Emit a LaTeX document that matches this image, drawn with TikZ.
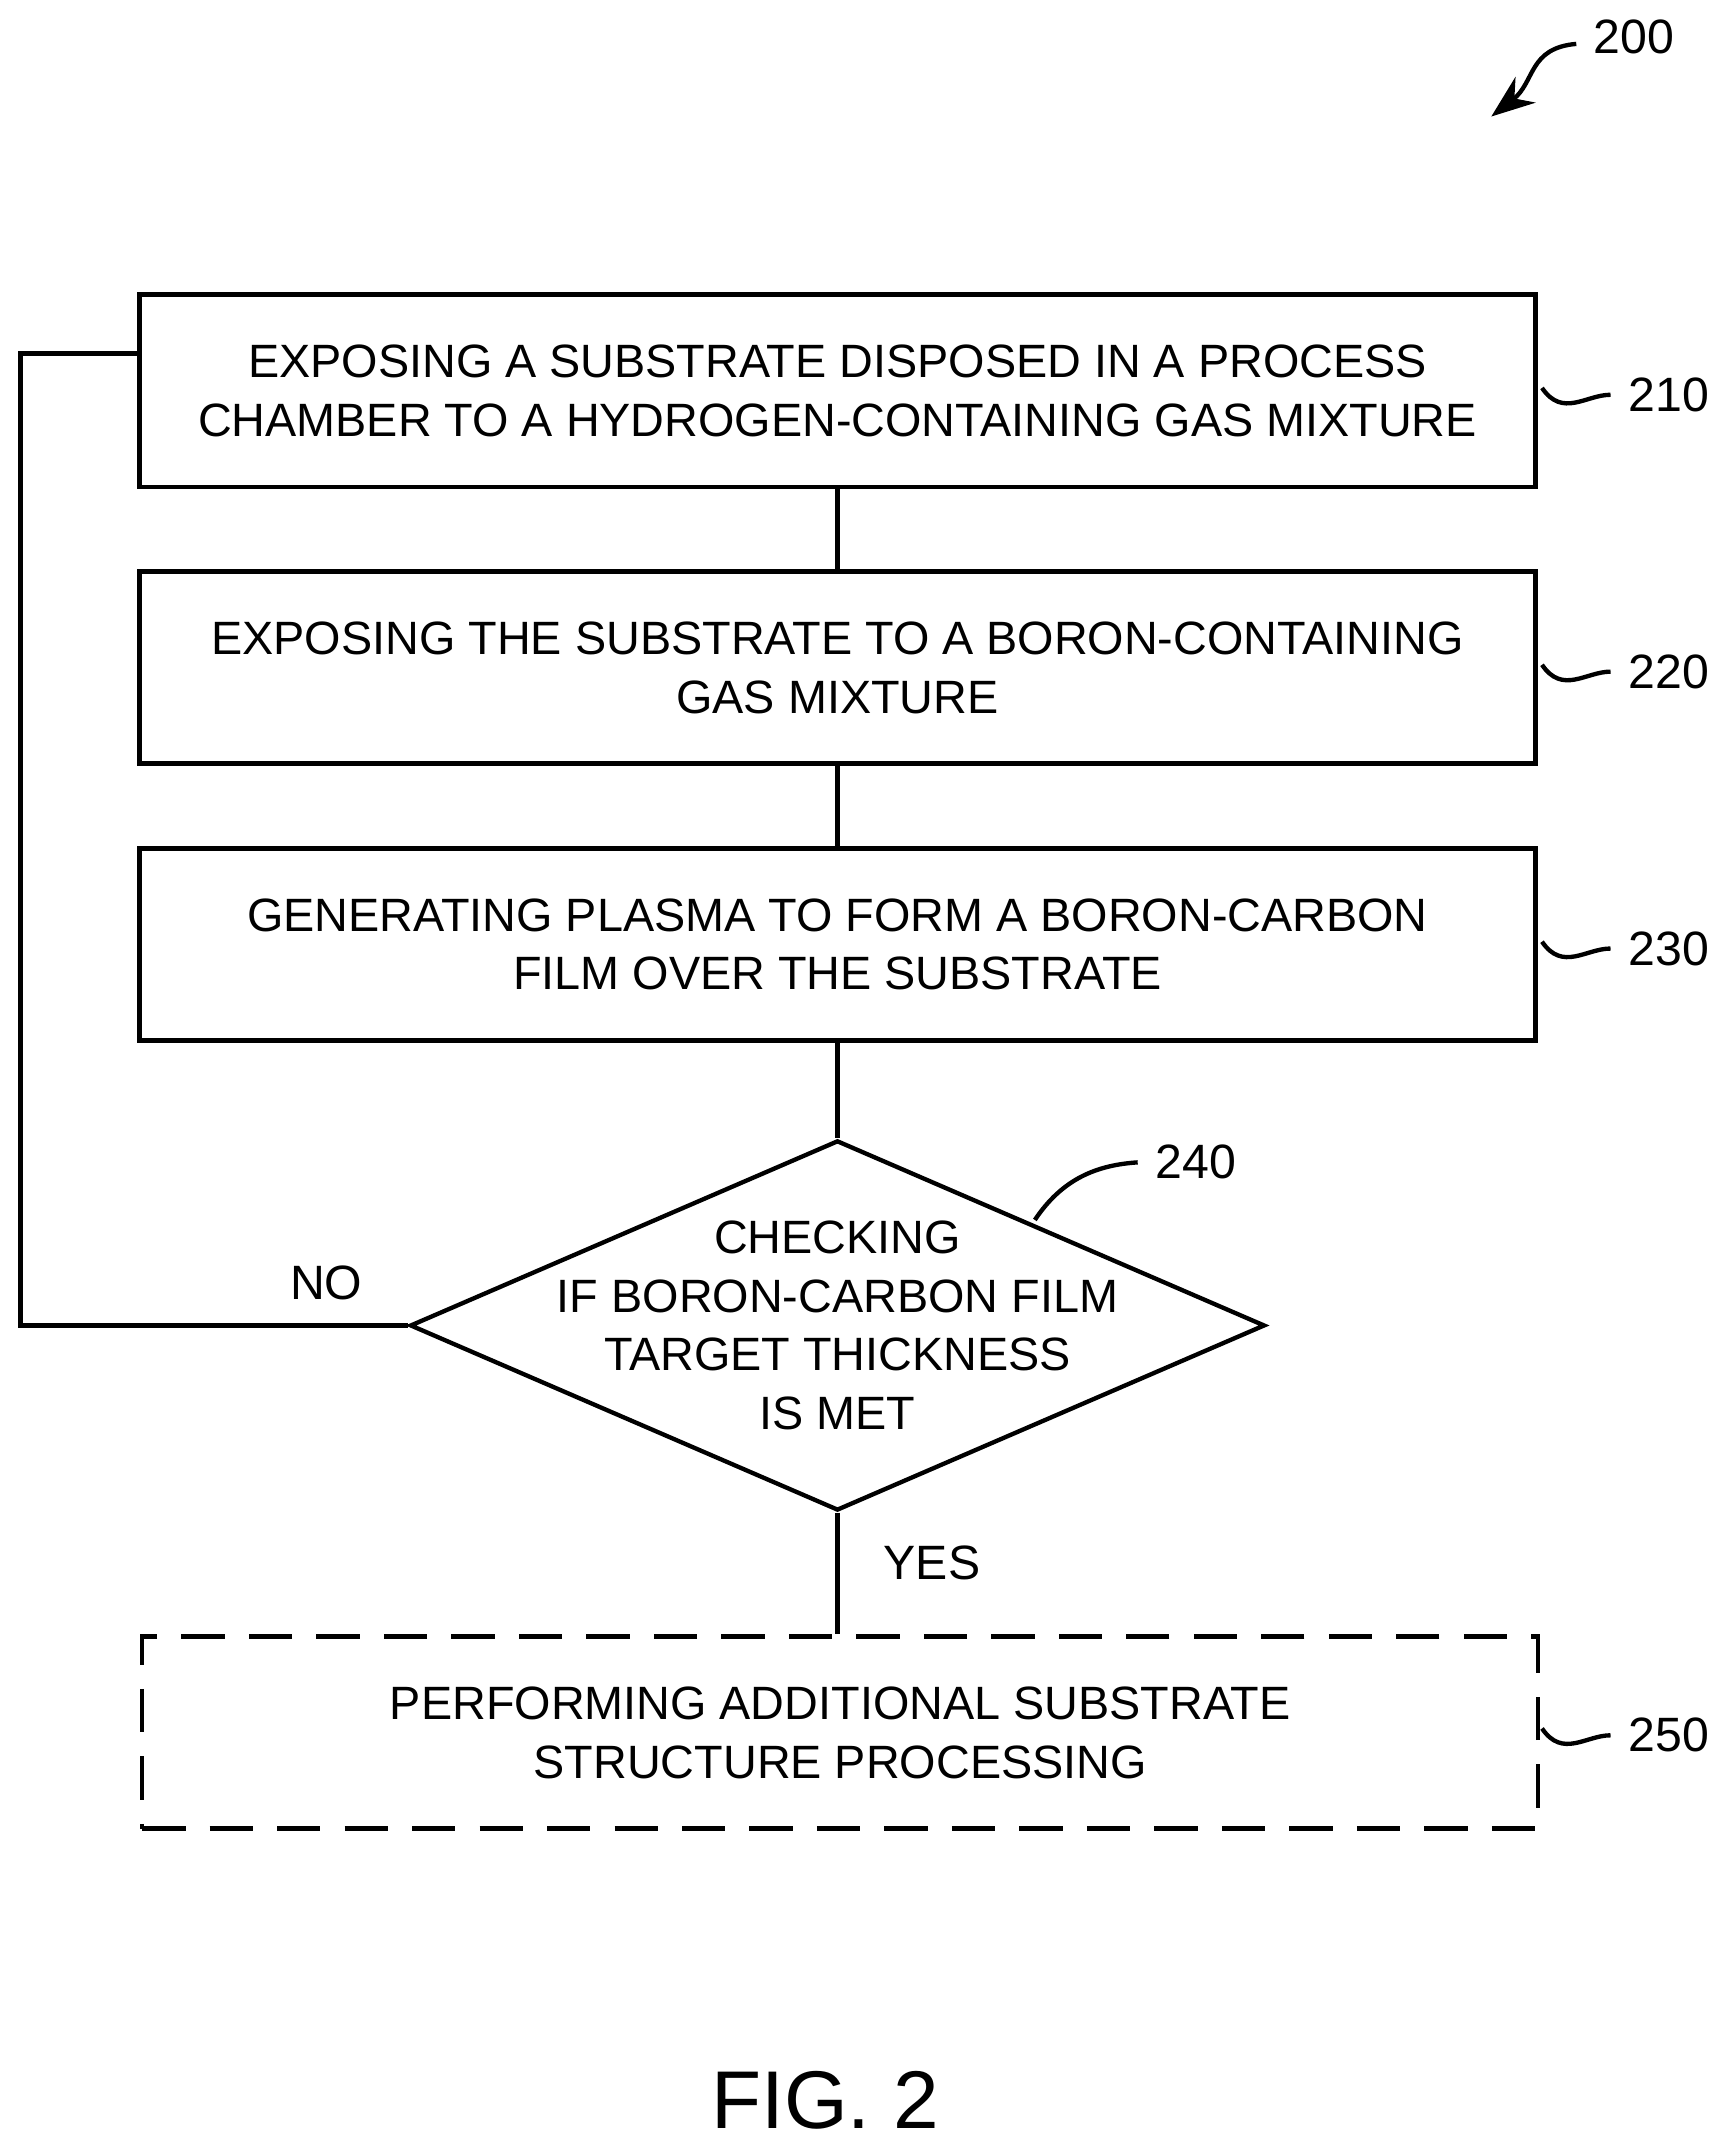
\documentclass[tikz,border=0pt]{standalone}
\usepackage{fontspec}
\setmainfont{Liberation Sans}
\usetikzlibrary{shapes.geometric,arrows.meta}
\tikzset{
  every picture/.style = {
    line width = 0.9pt,
    x = 0.01cm, y = -0.01cm,
  }
  ,
  stage/.style = {
    rectangle,
    draw,
    minimum width = 10.18cm,
    minimum height = 1.4cm,
    align = center,
    font = \fontsize{9.7}{12.2}\selectfont
  }
  , % dashed stage
  optional/.style = {
    stage,
    dash pattern = on 9pt off 5pt
  }
  , % decision
  check/.style = {
    diamond,
    draw,
    aspect = 2.31,
    inner xsep = 0pt,
    inner ysep = -0.3cm,
    align = center,
    font = \fontsize{9.7}{12.2}\selectfont
  }
  , % reference numerals
  refnum/.style = {
    font = \fontsize{10}{12}\selectfont
  }
}
\newcommand{\tildeto}[2]{\draw (#1) ++(0,-5) .. controls ++(15,22) and ++(-18,0) .. ++(50,5) node [refnum, right] {#2};}

\begin{document}
\begin{tikzpicture}
    \useasboundingbox (0,0) rectangle (1254,1562);
    \node [stage] (s210) at (611,285) {EXPOSING A SUBSTRATE DISPOSED IN A PROCESS\\CHAMBER TO A HYDROGEN-CONTAINING GAS MIXTURE};
    \node [stage] (s220) at (611,487) {EXPOSING THE SUBSTRATE TO A BORON-CONTAINING\\GAS MIXTURE};
    \node [stage] (s230) at (611,689) {GENERATING PLASMA TO FORM A BORON-CARBON\\FILM OVER THE SUBSTRATE};
    \node [check] (s240) at (611,967) {CHECKING\\IF BORON-CARBON FILM\\TARGET THICKNESS\\IS MET};
    \node [optional] (s250) at (613,1264) {PERFORMING ADDITIONAL SUBSTRATE\\STRUCTURE PROCESSING};
    \coordinate (back) at (15,258);

    \draw (s210) -- (s220);
    \draw (s220) -- (s230);
    \draw (s230) -- (s240.north);
    \draw (s240.south) -- (s250.north -| s240.south);
    \draw (s240.west) -| (back) -- (back -| s210.west);
    \node [refnum] (no) at (238,936) {NO};
    \node [refnum] (yes) at (680,1140) {YES};

    \tildeto{1125,288}{210}
    \tildeto{1125,490}{220}
    \tildeto{1125,692}{230}
    \tildeto{1125,1266}{250}
    \draw (755,890) .. controls (775,860) and (800,850) .. (830,848) node [refnum, right] {240};
    \draw [-{Stealth[length=9pt]}] (1150,32) .. controls (1115,35) and (1120,60) .. (1088,85);
    \node [refnum] (n200) at (1192,27) {200};
    \node [font=\fontsize{17}{20}\selectfont] (fig) at (602,1532) {FIG. 2};
\end{tikzpicture}
\end{document}
